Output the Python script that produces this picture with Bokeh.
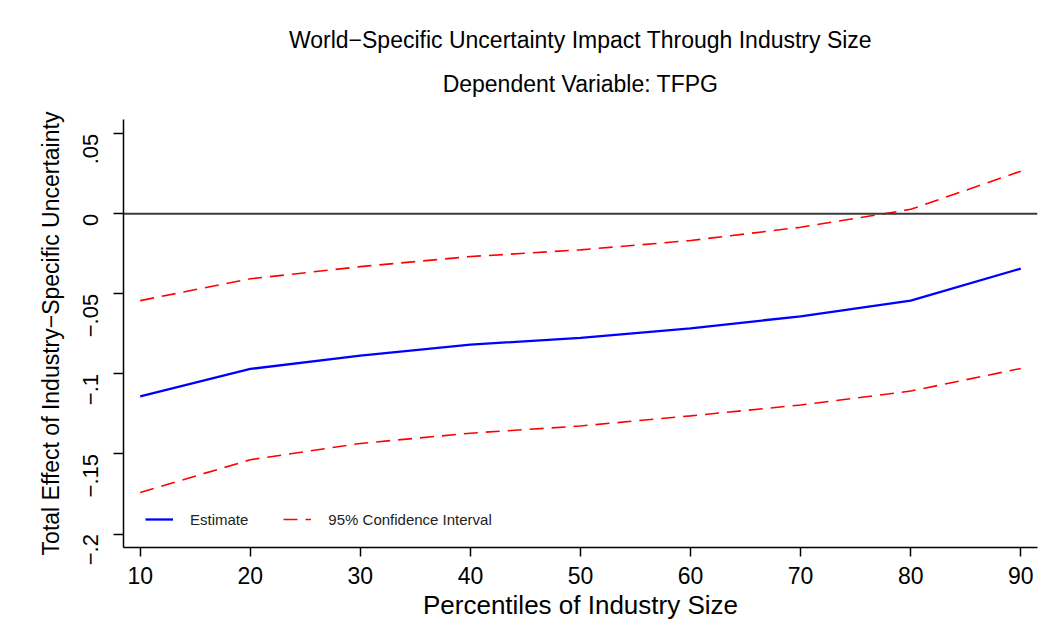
import math
from bokeh.plotting import figure
from bokeh.models import Range1d, Span, Legend, LegendItem, Title, FixedTicker
from bokeh.embed import file_html
from bokeh.resources import INLINE

percentiles = [10, 20, 30, 40, 50, 60, 70, 80, 90]
estimate = [-0.1140, -0.0969, -0.0886, -0.0817, -0.0775, -0.0715, -0.0640, -0.0542, -0.0342]
upper_ci = [-0.0542, -0.0406, -0.0330, -0.0267, -0.0225, -0.0167, -0.0084, 0.0028, 0.0266]
lower_ci = [-0.1740, -0.1536, -0.1434, -0.1370, -0.1325, -0.1262, -0.1194, -0.1107, -0.0966]

x_ticks = [10, 20, 30, 40, 50, 60, 70, 80, 90]
y_ticks = [-0.2, -0.15, -0.1, -0.05, 0.0, 0.05]
y_tick_labels = ["\u2212.2", "\u2212.15", "\u2212.1", "\u2212.05", "0", ".05"]

title_text = "World\u2212Specific Uncertainty Impact Through Industry Size"
subtitle_text = "Dependent Variable: TFPG"
x_label = "Percentiles of Industry Size"
y_label = "Total Effect of Industry\u2212Specific Uncertainty"

FONT = "Liberation Sans"

p = figure(width=1055, height=634, output_backend="svg", toolbar_location=None,
           x_range=Range1d(8.48, 91.52), y_range=Range1d(-0.2084, 0.0589),
           min_border_left=123, min_border_right=18, min_border_top=119, min_border_bottom=87,
           background_fill_color="white", border_fill_color="white")
p.outline_line_color = None
p.xgrid.visible = False
p.ygrid.visible = False

# titles (first added = nearest to frame); a tiny spacer keeps the subtitle off the frame
spacer = Title(text=" ", align="center", text_font=FONT, text_font_size="1px", standoff=8)
p.add_layout(spacer, "above")
sub = Title(text=subtitle_text, align="center", text_font=FONT, text_font_size="23px",
            text_font_style="normal", text_color="black", standoff=23)
p.add_layout(sub, "above")
ttl = Title(text=title_text, align="center", text_font=FONT, text_font_size="23px",
            text_font_style="normal", text_color="black", standoff=10)
p.add_layout(ttl, "above")

zero = Span(location=0, dimension="width", line_color="#3a3a3a", line_width=2)
p.add_layout(zero)

r_est = p.line(percentiles, estimate, line_color="#0000ff", line_width=2.3)
r_up = p.line(percentiles, upper_ci, line_color="#ff0000", line_width=1.6, line_dash="14 8")
r_lo = p.line(percentiles, lower_ci, line_color="#ff0000", line_width=1.6, line_dash="14 8")

legend = Legend(items=[LegendItem(label="Estimate", renderers=[r_est]),
                       LegendItem(label="95% Confidence Interval", renderers=[r_up])],
                location=(22, 18), orientation="horizontal",
                label_text_font=FONT, label_text_font_size="15px", label_text_color="#222222",
                glyph_width=28, glyph_height=20, label_height=20, label_standoff=17, spacing=35,
                padding=0, margin=0, border_line_color=None, background_fill_alpha=0)
p.add_layout(legend)

# axes
p.xaxis.ticker = FixedTicker(ticks=x_ticks)
p.yaxis.ticker = FixedTicker(ticks=y_ticks)
p.yaxis.major_label_overrides = {t: l for t, l in zip(y_ticks, y_tick_labels)}
p.yaxis.major_label_orientation = math.pi / 2

for ax in (p.xaxis, p.yaxis):
    ax.axis_line_color = "black"
    ax.axis_line_width = 1.5
    ax.major_tick_line_color = "black"
    ax.major_tick_line_width = 1.5
    ax.major_tick_in = 0
    ax.minor_tick_line_color = None
    ax.major_label_text_font = FONT
    ax.axis_label_text_font = FONT
    ax.axis_label_text_font_style = "normal"
    ax.major_label_text_color = "black"
    ax.axis_label_text_color = "black"

p.xaxis.major_tick_out = 9
p.yaxis.major_tick_out = 10
p.xaxis.major_label_text_font_size = "23px"
p.yaxis.major_label_text_font_size = "22px"
p.xaxis.axis_label = x_label
p.yaxis.axis_label = y_label
p.xaxis.axis_label_text_font_size = "26px"
p.yaxis.axis_label_text_font_size = "23px"
p.xaxis.major_label_standoff = 10
p.yaxis.major_label_standoff = 23
p.xaxis.axis_label_standoff = 3
p.yaxis.axis_label_standoff = 9

open("out.html", "w").write(file_html(p, INLINE))
